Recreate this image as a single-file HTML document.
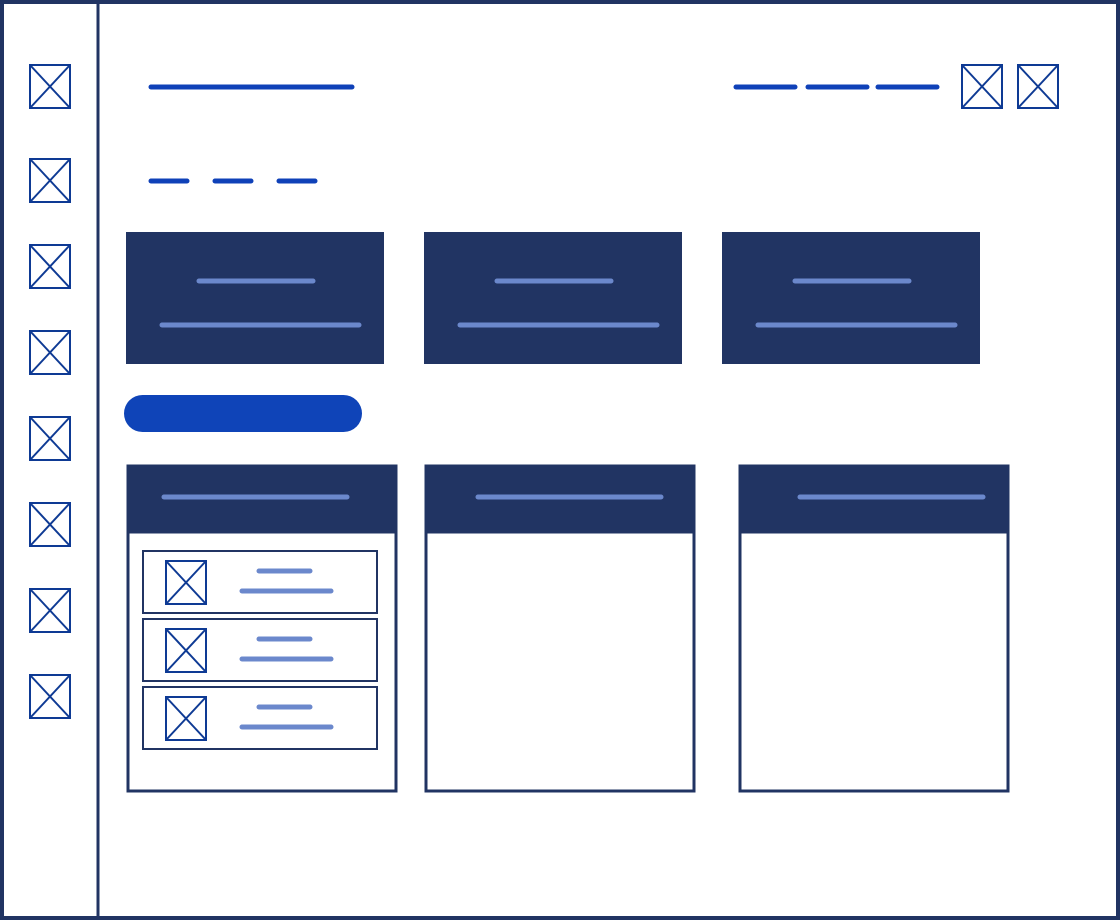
<!DOCTYPE html>
<html><head><style>body{margin:0;background:#fff}svg{display:block}</style></head><body>
<svg width="1120" height="920" viewBox="0 0 1120 920" xmlns="http://www.w3.org/2000/svg">
<defs>
<g id="x"><rect x="0" y="0" width="40" height="43" fill="none" stroke="#0e3a94" stroke-width="2"/><line x1="0" y1="0" x2="40" y2="43" stroke="#0e3a94" stroke-width="2"/><line x1="40" y1="0" x2="0" y2="43" stroke="#0e3a94" stroke-width="2"/></g>
</defs>
<rect x="2" y="2" width="1116" height="916" fill="#fff" stroke="#213463" stroke-width="4"/>
<line x1="98" y1="0" x2="98" y2="920" stroke="#213463" stroke-width="3"/>
<use href="#x" x="30" y="65"/><use href="#x" x="30" y="159"/><use href="#x" x="30" y="245"/><use href="#x" x="30" y="331"/><use href="#x" x="30" y="417"/><use href="#x" x="30" y="503"/><use href="#x" x="30" y="589"/><use href="#x" x="30" y="675"/>
<use href="#x" x="962" y="65"/><use href="#x" x="1018" y="65"/>
<g stroke="#0f41b8" stroke-width="5" stroke-linecap="round">
<line x1="151" y1="87" x2="352" y2="87"/>
<line x1="736" y1="87" x2="795" y2="87"/><line x1="808" y1="87" x2="867" y2="87"/><line x1="878" y1="87" x2="937" y2="87"/>
<line x1="151" y1="181" x2="187" y2="181"/><line x1="215" y1="181" x2="251" y2="181"/><line x1="279" y1="181" x2="315" y2="181"/>
</g>
<g fill="#213463"><rect x="126" y="232" width="258" height="132"/><rect x="424" y="232" width="258" height="132"/><rect x="722" y="232" width="258" height="132"/></g>
<g stroke="#6b88cc" stroke-width="5" stroke-linecap="round">
<line x1="199" y1="281" x2="313" y2="281"/><line x1="162" y1="325" x2="359" y2="325"/>
<line x1="497" y1="281" x2="611" y2="281"/><line x1="460" y1="325" x2="657" y2="325"/>
<line x1="795" y1="281" x2="909" y2="281"/><line x1="758" y1="325" x2="955" y2="325"/>
</g>
<rect x="124" y="395" width="238" height="37" rx="18.5" fill="#0f44b8"/>
<g fill="#fff" stroke="#213463" stroke-width="3">
<rect x="128" y="466" width="268" height="325"/><rect x="426" y="466" width="268" height="325"/><rect x="740" y="466" width="268" height="325"/>
</g>
<g fill="#213463"><rect x="126.5" y="464.5" width="271" height="69"/><rect x="424.5" y="464.5" width="271" height="69"/><rect x="738.5" y="464.5" width="271" height="69"/></g>
<g stroke="#6b88cc" stroke-width="5" stroke-linecap="round">
<line x1="164" y1="497" x2="347" y2="497"/><line x1="478" y1="497" x2="661" y2="497"/><line x1="800" y1="497" x2="983" y2="497"/>
</g>
<g fill="none" stroke="#213463" stroke-width="2"><rect x="143" y="551" width="234" height="62"/><rect x="143" y="619" width="234" height="62"/><rect x="143" y="687" width="234" height="62"/></g>
<use href="#x" x="166" y="561"/><use href="#x" x="166" y="629"/><use href="#x" x="166" y="697"/>
<g stroke="#6b88cc" stroke-width="5" stroke-linecap="round">
<line x1="259" y1="571" x2="310" y2="571"/><line x1="242" y1="591" x2="331" y2="591"/>
<line x1="259" y1="639" x2="310" y2="639"/><line x1="242" y1="659" x2="331" y2="659"/>
<line x1="259" y1="707" x2="310" y2="707"/><line x1="242" y1="727" x2="331" y2="727"/>
</g>
</svg>
</body></html>
